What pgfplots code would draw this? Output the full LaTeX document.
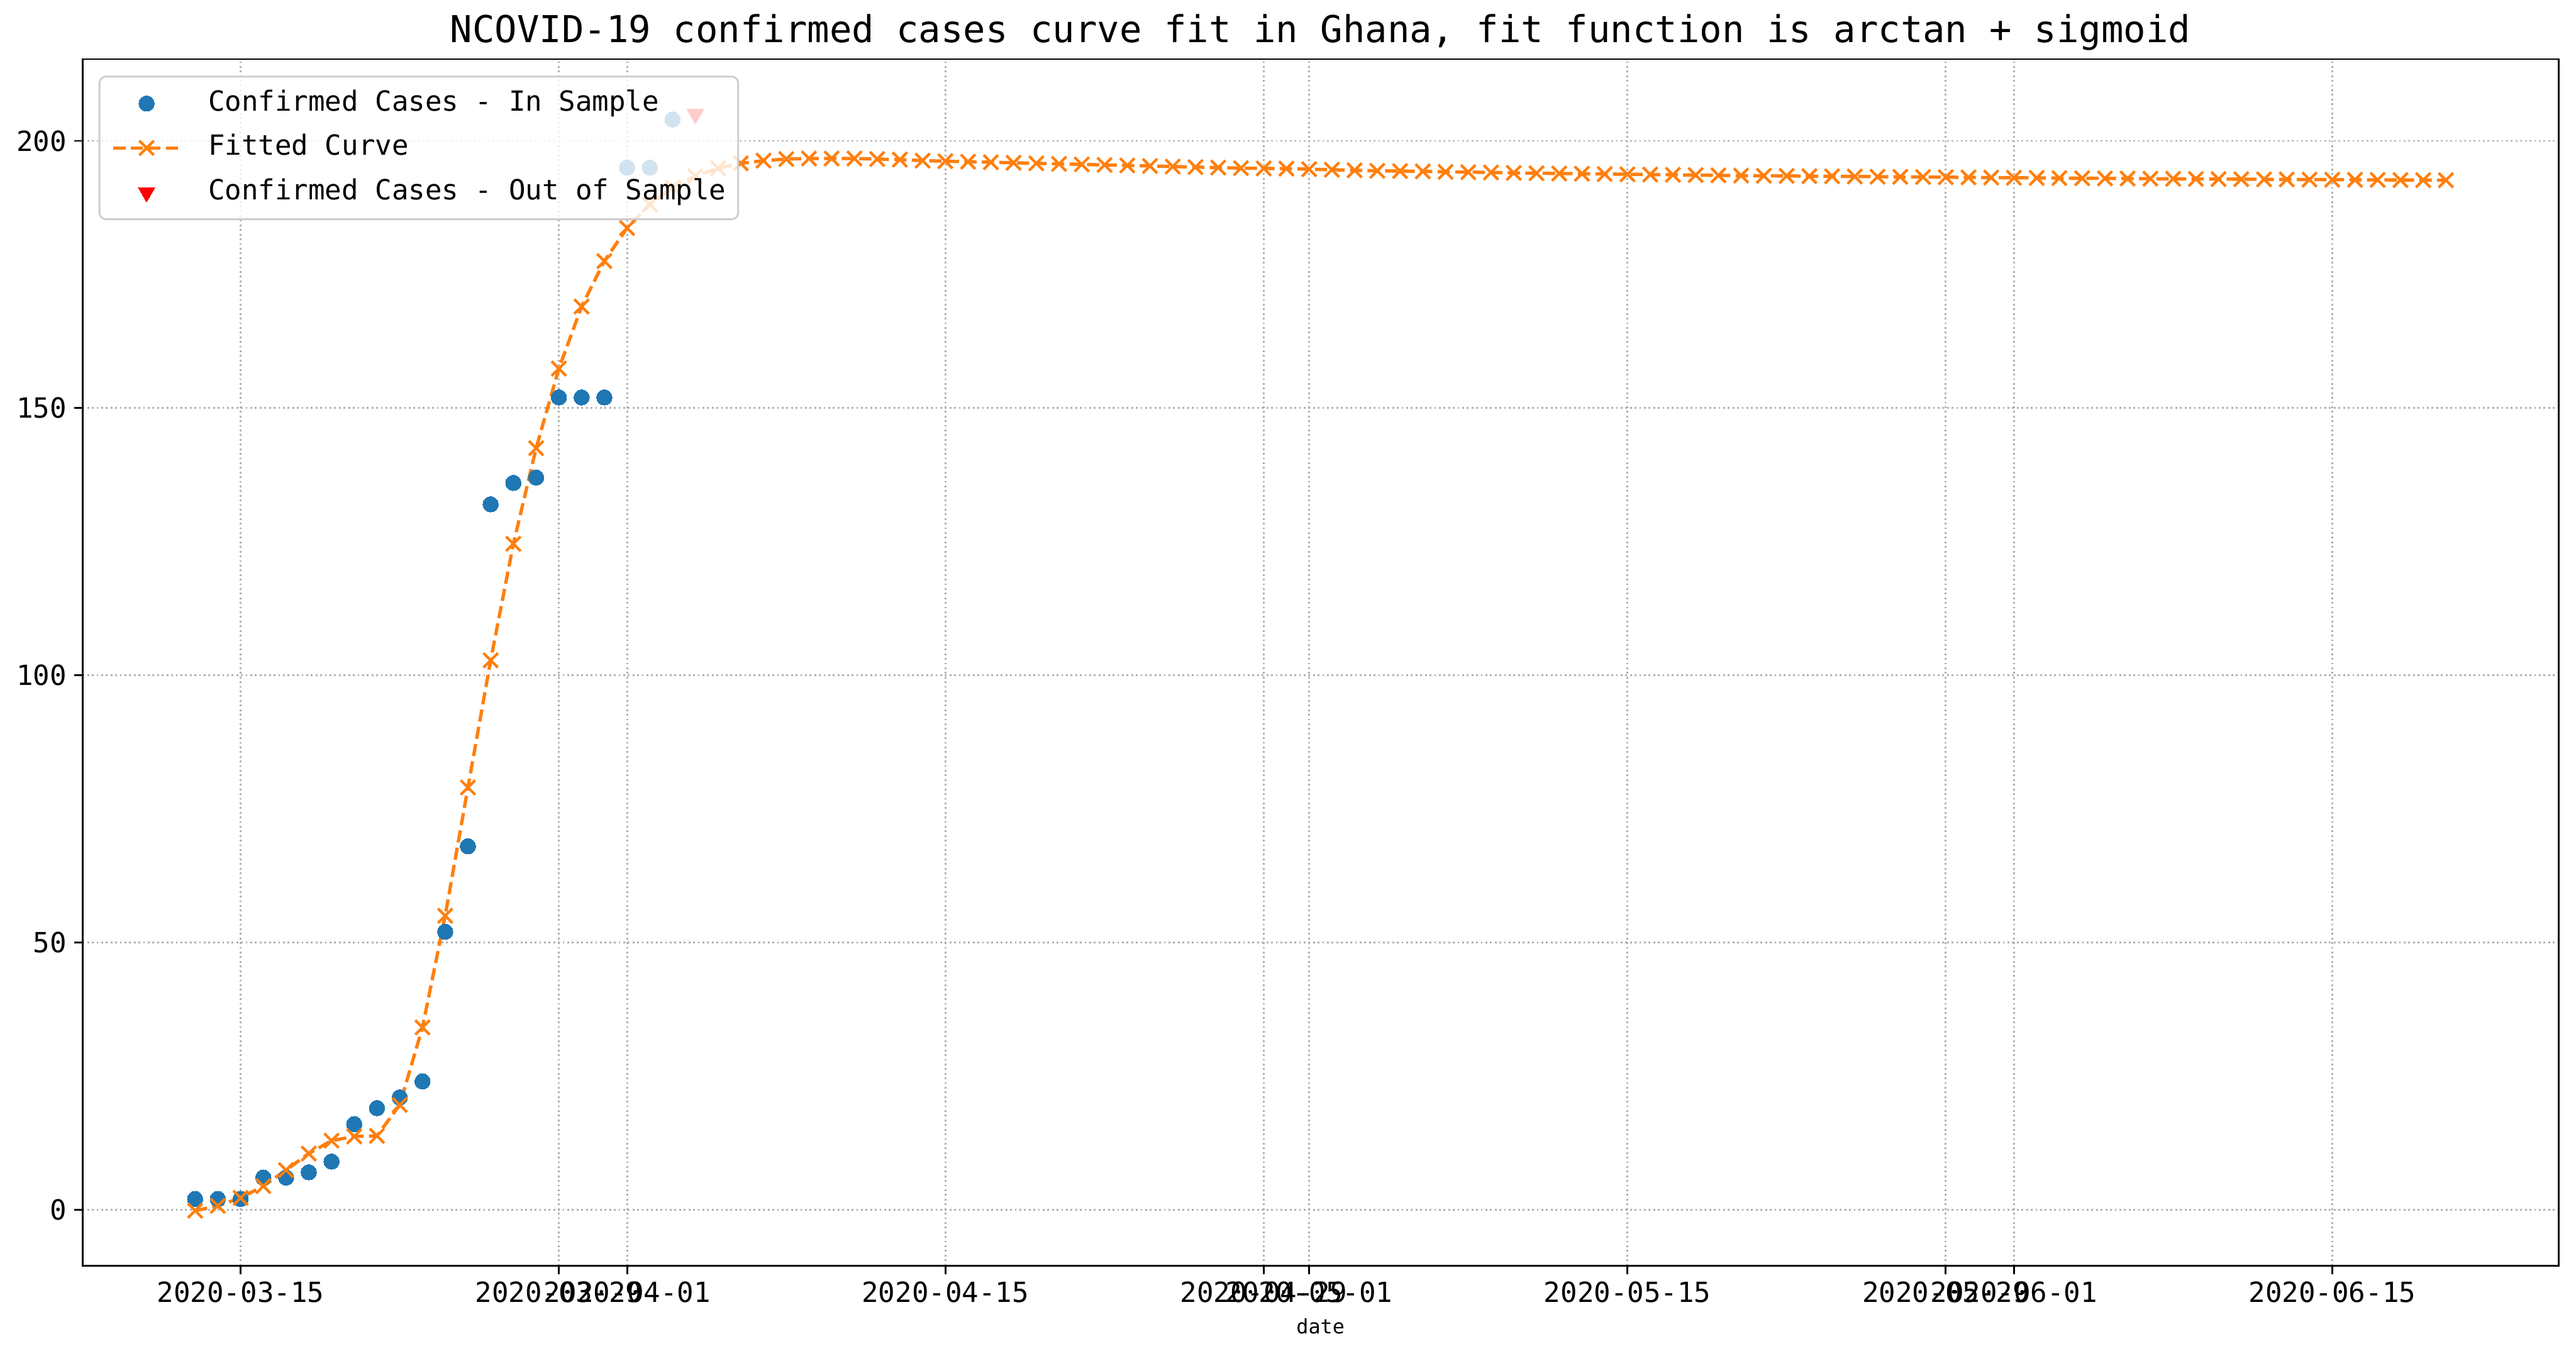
\documentclass[border=0pt]{standalone}
\usepackage{fontspec}
\setmainfont{DejaVu Sans Mono}
\usepackage{pgfplots}
\pgfplotsset{compat=1.18}
\definecolor{tabblue}{HTML}{1F77B4}
\definecolor{taborange}{HTML}{FF7F0E}
\definecolor{gridgray}{HTML}{B0B0B0}
\definecolor{legedge}{HTML}{CCCCCC}
\pgfplotsset{
  dotlegend/.style={legend image code/.code={\draw[##1] plot coordinates {(15pt,0pt)};}},
  linelegend/.style={legend image code/.code={\draw[mark repeat=2,mark phase=2,##1] plot coordinates {(0pt,0pt) (15pt,0pt) (30pt,0pt)};}},
}
\begin{document}
\begin{tikzpicture}
\path[use as bounding box] (-37.2pt,-38.4pt) rectangle (1123.44pt,570.24pt);
\begin{axis}[
  scale only axis, width=1115.52pt, height=543.6pt,
  at={(0pt,0pt)}, anchor=south west,
  xmin=-6.95, xmax=101.95, ymin=-10.5, ymax=215.3,
  xtick={0,14,17,31,45,47,61,75,78,92},
  xticklabels={2020-03-15,2020-03-29,2020-04-01,2020-04-15,2020-04-29,2020-05-01,2020-05-15,2020-05-29,2020-06-01,2020-06-15},
  ytick={0,50,100,150,200},
  /pgf/number format/assume math mode=true,
  tick pos=left, tick align=outside, major tick length=3.7pt,
  tick style={black, line width=0.8pt},
  axis line style={line width=0.8pt},
  ticklabel style={font=\fontsize{12.5}{14}\selectfont},
  grid=major,
  major grid style={gridgray, line width=0.8pt, dash pattern=on 0.8pt off 1.3pt},
  title={NCOVID-19 confirmed cases curve fit in Ghana, fit function is arctan + sigmoid},
  title style={at={(axis description cs:0.5,1)}, anchor=base, yshift=1.6pt, inner sep=0pt, font=\fontsize{16.7}{19}\selectfont},
  xlabel={date},
  xlabel style={at={(axis description cs:0.5,0)}, anchor=north, yshift=-23.5pt, inner sep=0pt, font=\fontsize{9}{10}\selectfont},
  legend cell align=left,
  legend style={at={(axis description cs:0.00645,0.9863)}, anchor=north west,
    fill=white, fill opacity=0.8, draw opacity=1, text opacity=1, draw=legedge,
    line width=0.8pt, rounded corners=3pt, inner xsep=5.5pt, inner ysep=6.4pt,
    font=\fontsize{12.5}{14}\selectfont, row sep=8.5pt,
    nodes={inner sep=0pt, text height=9pt, text depth=2.5pt},
    /tikz/every odd column/.append style={column sep=12pt}},
]
\addplot[only marks, mark=*, mark size=3.5pt, color=tabblue, fill opacity=1, draw opacity=1,
  mark options={draw=tabblue, fill=tabblue, line width=0pt}, dotlegend]
coordinates {
(-2,2) (-1,2) (0,2) (1,6) (2,6) (3,7) (4,9) (5,16) (6,19) (7,21) (8,24)
(9,52) (10,68) (11,132) (12,136) (13,137) (14,152) (15,152) (16,152)
(17,195) (18,195) (19,204)
};
\addlegendentry{Confirmed Cases - In Sample}
\addplot[taborange, line width=1.5pt, dash pattern=on 5.5pt off 2.4pt, fill opacity=1, draw opacity=1,
  mark=x, mark size=4.6pt, mark options={solid, line width=1.2pt}, linelegend]
coordinates {
(-2,-0.2) (-1,0.7) (0,2.2) (1,4.4) (2,7.4) (3,10.5) (4,12.9) (5,13.7) (6,13.8) (7,19.6)
(8,34.1) (9,55.0) (10,79.0) (11,102.8) (12,124.6) (13,142.5) (14,157.4) (15,169.0) (16,177.5) (17,183.7)
(18,188.1) (19,191.3) (20,193.4) (21,194.9) (22,195.8) (23,196.3) (24,196.6) (25,196.7) (26,196.7) (27,196.7)
(28,196.6) (29,196.5) (30,196.3) (31,196.2) (32,196.1) (33,196.0) (34,195.9) (35,195.8) (36,195.7) (37,195.6)
(38,195.5) (39,195.4) (40,195.3) (41,195.2) (42,195.1) (43,195.0) (44,194.9) (45,194.85) (46,194.8) (47,194.7)
(48,194.6) (49,194.5) (50,194.4) (51,194.35) (52,194.3) (53,194.2) (54,194.15) (55,194.1) (56,194.0) (57,193.95)
(58,193.9) (59,193.85) (60,193.8) (61,193.75) (62,193.7) (63,193.65) (64,193.6) (65,193.55) (66,193.5) (67,193.47)
(68,193.44) (69,193.4) (70,193.37) (71,193.34) (72,193.3) (73,193.27) (74,193.24) (75,193.2) (76,193.17) (77,193.14)
(78,193.1) (79,193.07) (80,193.04) (81,193.0) (82,192.98) (83,192.95) (84,192.93) (85,192.9) (86,192.88) (87,192.85)
(88,192.83) (89,192.8) (90,192.78) (91,192.76) (92,192.74) (93,192.72) (94,192.7) (95,192.68) (96,192.66) (97,192.64)
};
\addlegendentry{Fitted Curve}
\addplot[only marks, mark=triangle*, mark size=4.3pt, color=red, fill opacity=1, draw opacity=1,
  mark options={rotate=180, fill=red, draw=red, line width=0pt}, dotlegend]
coordinates {(20,205)};
\addlegendentry{Confirmed Cases - Out of Sample}
\end{axis}
\end{tikzpicture}
\end{document}
